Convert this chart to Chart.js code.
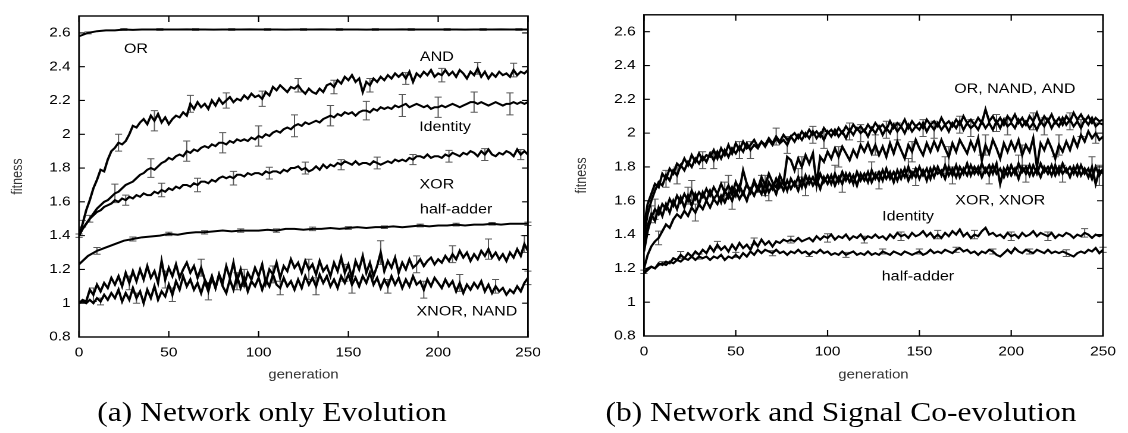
<!DOCTYPE html>
<html><head><meta charset="utf-8">
<script src="https://cdn.jsdelivr.net/npm/chart.js@4.4.1/dist/chart.umd.min.js"></script>
<style>
html,body{margin:0;padding:0;background:#fff;width:1128px;height:433px;overflow:hidden}
#wrap{position:absolute;left:0;top:0;width:948px;height:433px;transform-origin:0 0;transform:scaleX(1.18987)}
canvas{position:absolute;top:0}
#ca{left:0} #cb{left:474px}
.cap{position:absolute;top:399px;font-family:"Liberation Serif",serif;font-size:26.5px;line-height:26px;white-space:nowrap;color:#000;transform:translateX(-50%)}
</style></head><body>
<div id="wrap">
<canvas id="ca" width="474" height="390"></canvas>
<canvas id="cb" width="474" height="390"></canvas>
<div class="cap" style="left:228.6px">(a) Network only Evolution</div>
<div class="cap" style="left:706.8px">(b) Network and Signal Co-evolution</div>
</div>
<script>
// ---------- axes ----------
const xTicks = [0,50,100,150,200,250];
const xTickLabels = ['0','50','100','150','200','250'];
const yTicks = [0.8,1.0,1.2,1.4,1.6,1.8,2.0,2.2,2.4,2.6];
const yTickLabels = ['0.8','1','1.2','1.4','1.6','1.8','2','2.2','2.4','2.6'];

// generation grids (every 2 and every 5 generations)
const gen2 = Array.from({length:126},(_,i)=>i*2);
const gen5 = Array.from({length:51},(_,i)=>i*5);

// ---------- panel (a): network only evolution ----------
const orA = [2.58,2.60,2.61,2.615,2.615,2.62,2.618,2.62,2.62,2.62,
 2.62,2.62,2.621,2.62,2.62,2.619,2.62,2.62,2.62,2.621,
 2.62,2.62,2.62,2.619,2.62,2.62,2.62,2.621,2.62,2.62,
 2.62,2.62,2.619,2.62,2.62,2.62,2.621,2.62,2.62,2.62,
 2.62,2.62,2.62,2.619,2.62,2.62,2.62,2.621,2.62,2.62,
 2.62];
const andA = [1.40,1.47,1.55,1.61,1.68,1.73,1.79,1.78,1.85,1.90,
 1.92,1.95,1.94,1.96,2.00,2.05,2.04,2.07,2.09,2.06,
 2.11,2.08,2.12,2.07,2.10,2.06,2.09,2.11,2.10,2.13,
 2.11,2.18,2.15,2.19,2.16,2.18,2.15,2.20,2.17,2.21,
 2.18,2.20,2.22,2.19,2.21,2.20,2.23,2.21,2.24,2.22,
 2.23,2.21,2.25,2.23,2.28,2.26,2.29,2.27,2.25,2.28,
 2.27,2.29,2.26,2.24,2.27,2.25,2.24,2.27,2.25,2.29,
 2.30,2.28,2.32,2.30,2.34,2.32,2.35,2.31,2.33,2.25,
 2.31,2.29,2.33,2.31,2.34,2.32,2.35,2.33,2.36,2.34,
 2.36,2.33,2.37,2.31,2.36,2.34,2.37,2.35,2.38,2.34,
 2.36,2.35,2.38,2.35,2.37,2.34,2.38,2.36,2.33,2.37,
 2.35,2.39,2.34,2.37,2.33,2.36,2.34,2.37,2.35,2.36,
 2.34,2.38,2.35,2.37,2.36,2.38];
const identityA = [1.40,1.44,1.47,1.50,1.53,1.56,1.58,1.60,1.61,1.63,
 1.65,1.66,1.68,1.70,1.71,1.72,1.74,1.76,1.77,1.79,
 1.80,1.79,1.81,1.83,1.84,1.86,1.85,1.87,1.88,1.87,
 1.90,1.89,1.91,1.90,1.92,1.93,1.92,1.94,1.93,1.95,
 1.95,1.94,1.96,1.95,1.97,1.96,1.97,1.96,1.98,1.97,
 1.99,1.98,2.00,1.99,2.01,2.02,2.01,2.03,2.04,2.03,
 2.05,2.06,2.05,2.07,2.06,2.07,2.08,2.07,2.09,2.10,
 2.11,2.10,2.12,2.11,2.13,2.12,2.13,2.11,2.13,2.14,
 2.14,2.13,2.15,2.14,2.16,2.15,2.16,2.15,2.17,2.16,
 2.17,2.18,2.16,2.17,2.18,2.17,2.16,2.17,2.15,2.16,
 2.16,2.17,2.16,2.17,2.18,2.17,2.16,2.17,2.18,2.19,
 2.19,2.18,2.19,2.18,2.17,2.18,2.19,2.18,2.17,2.18,
 2.18,2.19,2.18,2.19,2.18,2.19];
const xorA = [1.40,1.44,1.47,1.50,1.52,1.54,1.55,1.57,1.58,1.59,
 1.61,1.60,1.62,1.61,1.63,1.62,1.64,1.63,1.65,1.64,
 1.64,1.66,1.65,1.67,1.66,1.68,1.67,1.69,1.68,1.70,
 1.70,1.69,1.71,1.70,1.72,1.72,1.71,1.73,1.72,1.74,
 1.75,1.74,1.75,1.74,1.76,1.76,1.75,1.77,1.76,1.77,
 1.77,1.76,1.78,1.77,1.78,1.78,1.77,1.79,1.78,1.80,
 1.80,1.81,1.79,1.80,1.78,1.79,1.81,1.79,1.82,1.80,
 1.82,1.81,1.83,1.82,1.84,1.83,1.82,1.84,1.82,1.83,
 1.83,1.82,1.84,1.83,1.82,1.83,1.84,1.83,1.85,1.84,
 1.85,1.84,1.86,1.85,1.87,1.87,1.86,1.88,1.86,1.87,
 1.87,1.86,1.88,1.87,1.89,1.88,1.87,1.89,1.88,1.90,
 1.89,1.87,1.90,1.88,1.91,1.88,1.87,1.89,1.88,1.90,
 1.89,1.87,1.91,1.88,1.90,1.88];
const halfAdderA = [1.23,1.28,1.31,1.33,1.35,1.37,1.38,1.39,1.395,1.40,
 1.41,1.405,1.415,1.42,1.42,1.425,1.43,1.425,1.43,1.43,
 1.43,1.435,1.43,1.44,1.44,1.435,1.44,1.44,1.445,1.44,
 1.445,1.45,1.445,1.45,1.45,1.455,1.45,1.455,1.46,1.455,
 1.46,1.46,1.465,1.46,1.465,1.465,1.47,1.465,1.47,1.47,
 1.47];
const xnorA = [1.00,1.02,1.01,1.08,1.05,1.11,1.07,1.12,1.09,1.15,
 1.11,1.16,1.10,1.18,1.12,1.19,1.13,1.20,1.14,1.22,
 1.15,1.19,1.12,1.25,1.14,1.21,1.16,1.23,1.15,1.20,
 1.24,1.18,1.22,1.15,1.21,1.14,1.10,1.16,1.09,1.17,
 1.12,1.22,1.15,1.24,1.13,1.20,1.11,1.18,1.14,1.21,
 1.16,1.23,1.12,1.20,1.17,1.24,1.15,1.22,1.19,1.26,
 1.21,1.24,1.18,1.25,1.20,1.23,1.17,1.25,1.19,1.22,
 1.16,1.24,1.19,1.27,1.18,1.23,1.15,1.25,1.20,1.28,
 1.18,1.24,1.16,1.22,1.30,1.19,1.25,1.21,1.27,1.18,
 1.24,1.20,1.26,1.21,1.23,1.26,1.22,1.25,1.27,1.23,
 1.26,1.24,1.28,1.25,1.29,1.26,1.31,1.27,1.30,1.25,
 1.29,1.26,1.31,1.28,1.32,1.27,1.30,1.26,1.29,1.25,
 1.30,1.27,1.32,1.28,1.35,1.31];
const nandA = [1.00,1.01,1.00,1.02,1.00,1.03,1.01,1.05,1.02,1.06,
 1.03,1.08,1.01,1.06,1.02,1.09,1.03,1.07,1.00,1.08,
 1.03,1.10,1.02,1.07,1.04,1.11,1.05,1.13,1.08,1.16,
 1.10,1.14,1.08,1.12,1.06,1.13,1.07,1.15,1.09,1.17,
 1.10,1.06,1.14,1.08,1.16,1.09,1.15,1.07,1.13,1.10,
 1.15,1.08,1.14,1.10,1.17,1.11,1.09,1.15,1.10,1.13,
 1.08,1.14,1.09,1.16,1.11,1.15,1.10,1.17,1.12,1.16,
 1.10,1.14,1.09,1.16,1.12,1.17,1.11,1.15,1.10,1.16,
 1.12,1.18,1.11,1.15,1.09,1.14,1.10,1.16,1.11,1.15,
 1.09,1.14,1.10,1.16,1.11,1.13,1.08,1.14,1.10,1.15,
 1.12,1.09,1.14,1.10,1.13,1.07,1.12,1.06,1.11,1.08,
 1.12,1.09,1.13,1.07,1.11,1.06,1.10,1.07,1.09,1.05,
 1.08,1.06,1.10,1.07,1.12,1.15];

// error bars (a): generation and half-width
const orErrGenA = [5,25,45,65,85,105,125,145,165,185,205,225,245];
const orErrA = [0.006,0.005,0.005,0.005,0.005,0.005,0.005,0.005,0.005,0.005,0.005,0.005,0.005];
const andErrGenA = [2,22,42,62,82,102,122,142,162,182,202,222,242];
const andErrA = [0.02,0.05,0.06,0.05,0.045,0.045,0.04,0.04,0.04,0.035,0.04,0.035,0.04];
const identityErrGenA = [0,20,40,60,80,100,120,140,160,180,200,220,240];
const identityErrA = [0.01,0.055,0.055,0.06,0.06,0.06,0.065,0.06,0.055,0.065,0.06,0.06,0.065];
const xorErrGenA = [6,26,46,66,86,106,126,146,166,186,206,226,246];
const xorErrA = [0.02,0.03,0.04,0.04,0.04,0.035,0.035,0.03,0.035,0.03,0.035,0.035,0.03];
const halfAdderErrGenA = [10,30,50,70,90,110,130,150,170,190,210,230,250];
const halfAdderErrA = [0.02,0.012,0.01,0.01,0.01,0.01,0.01,0.008,0.008,0.008,0.008,0.008,0.01];
const xnorErrGenA = [8,28,48,68,88,108,128,148,168,188,208,228,248];
const xnorErrA = [0.04,0.04,0.05,0.05,0.05,0.05,0.06,0.05,0.07,0.05,0.05,0.06,0.05];
const nandErrGenA = [12,32,52,72,92,112,132,152,172,192,212,232,250];
const nandErrA = [0.02,0.03,0.04,0.05,0.05,0.04,0.05,0.05,0.04,0.05,0.05,0.04,0.04];

// ---------- panel (b): network and signal co-evolution ----------
const orB = [1.45,1.58,1.64,1.70,1.68,1.76,1.73,1.79,1.76,1.82,
 1.80,1.85,1.81,1.87,1.83,1.88,1.84,1.87,1.86,1.90,
 1.85,1.91,1.87,1.93,1.88,1.94,1.90,1.95,1.91,1.93,
 1.96,1.92,1.95,1.93,1.97,1.94,1.98,1.95,1.99,1.96,
 1.98,2.00,1.97,2.01,1.98,2.02,1.99,2.01,1.98,2.03,
 2.00,2.02,1.99,2.03,2.00,2.04,2.01,2.05,2.02,2.04,
 2.01,2.05,2.02,2.06,2.03,2.05,2.02,2.07,2.03,2.06,
 2.04,2.08,2.03,2.07,2.04,2.06,2.03,2.08,2.05,2.07,
 2.04,2.09,2.05,2.07,2.04,2.08,2.05,2.10,2.06,2.08,
 2.05,2.09,2.06,2.14,2.07,2.10,2.06,2.09,2.05,2.10,
 2.07,2.11,2.06,2.09,2.05,2.10,2.07,2.12,2.06,2.10,
 2.07,2.11,2.06,2.09,2.05,2.10,2.07,2.12,2.08,2.11,
 2.07,2.10,2.06,2.09,2.07,2.08];
const andB = [1.40,1.52,1.60,1.66,1.71,1.69,1.75,1.72,1.78,1.75,
 1.81,1.78,1.83,1.80,1.85,1.82,1.86,1.83,1.88,1.84,
 1.89,1.85,1.90,1.86,1.91,1.88,1.92,1.89,1.94,1.90,
 1.93,1.91,1.95,1.92,1.96,1.93,1.97,1.94,1.96,1.93,
 1.98,1.95,1.99,1.96,2.00,1.97,2.01,1.97,2.00,1.96,
 2.01,1.98,2.02,1.98,2.01,1.97,2.02,1.99,2.03,2.00,
 2.02,1.98,2.03,2.00,2.04,1.99,2.03,2.00,2.05,2.01,
 2.04,2.00,2.05,2.01,2.04,2.02,2.06,2.01,2.05,2.02,
 2.06,2.02,2.05,2.01,2.06,2.03,2.07,2.02,2.06,2.03,
 2.05,2.02,2.07,2.03,2.06,2.02,2.07,2.03,2.08,2.04,
 2.06,2.03,2.08,2.04,2.07,2.03,2.06,2.02,2.07,2.04,
 2.08,2.03,2.07,2.04,2.09,2.05,2.08,2.04,2.07,2.03,
 2.08,2.05,2.09,2.04,2.06,2.05];
const nandB = [1.30,1.42,1.50,1.55,1.52,1.58,1.55,1.61,1.57,1.63,
 1.59,1.64,1.60,1.66,1.61,1.65,1.62,1.67,1.63,1.68,
 1.64,1.70,1.65,1.69,1.64,1.71,1.66,1.78,1.70,1.65,
 1.72,1.67,1.74,1.69,1.76,1.71,1.68,1.75,1.70,1.86,
 1.84,1.78,1.85,1.80,1.87,1.82,1.88,1.70,1.86,1.83,
 1.89,1.85,1.91,1.86,1.92,1.88,1.84,1.90,1.86,1.93,
 1.89,1.94,1.88,1.93,1.87,1.92,1.86,1.94,1.88,1.95,
 1.90,1.85,1.93,1.89,1.96,1.91,1.87,1.94,1.89,1.95,
 1.90,1.96,1.91,1.86,1.94,1.89,1.96,1.92,1.88,1.95,
 1.90,1.97,1.84,1.93,1.88,1.96,1.91,1.85,1.94,1.89,
 1.95,1.90,1.96,1.87,1.93,1.89,1.97,1.80,1.94,1.90,
 1.96,1.91,1.85,1.93,1.89,1.95,1.90,1.97,1.92,1.99,
 1.95,2.01,1.97,2.00,1.96,1.98];
const xorB = [1.35,1.45,1.52,1.48,1.56,1.51,1.58,1.53,1.60,1.55,
 1.62,1.56,1.63,1.57,1.64,1.58,1.65,1.60,1.66,1.61,
 1.64,1.59,1.66,1.62,1.68,1.63,1.69,1.64,1.70,1.65,
 1.71,1.66,1.70,1.64,1.71,1.67,1.73,1.68,1.72,1.66,
 1.73,1.69,1.74,1.68,1.75,1.70,1.74,1.69,1.76,1.71,
 1.75,1.70,1.76,1.71,1.77,1.72,1.76,1.70,1.77,1.72,
 1.76,1.71,1.78,1.73,1.77,1.72,1.79,1.73,1.77,1.72,
 1.78,1.74,1.80,1.74,1.79,1.73,1.78,1.72,1.79,1.74,
 1.80,1.75,1.81,1.75,1.79,1.74,1.80,1.76,1.82,1.75,
 1.80,1.76,1.82,1.77,1.81,1.76,1.82,1.70,1.79,1.75,
 1.81,1.76,1.82,1.77,1.80,1.75,1.81,1.76,1.82,1.77,
 1.80,1.75,1.81,1.76,1.82,1.77,1.80,1.76,1.81,1.75,
 1.79,1.74,1.80,1.70,1.78,1.76];
const xnorB = [1.20,1.28,1.33,1.36,1.38,1.42,1.46,1.44,1.49,1.52,
 1.50,1.54,1.51,1.56,1.53,1.58,1.55,1.60,1.56,1.61,
 1.58,1.63,1.59,1.64,1.60,1.66,1.61,1.65,1.60,1.67,
 1.63,1.68,1.64,1.70,1.65,1.69,1.64,1.71,1.66,1.72,
 1.67,1.71,1.66,1.73,1.68,1.74,1.69,1.73,1.67,1.74,
 1.70,1.75,1.69,1.74,1.70,1.76,1.71,1.75,1.69,1.76,
 1.72,1.77,1.71,1.76,1.72,1.78,1.73,1.77,1.71,1.78,
 1.73,1.79,1.72,1.77,1.74,1.80,1.75,1.79,1.73,1.80,
 1.76,1.78,1.73,1.80,1.75,1.81,1.74,1.79,1.75,1.81,
 1.76,1.80,1.74,1.79,1.75,1.81,1.76,1.79,1.74,1.80,
 1.75,1.79,1.73,1.80,1.76,1.81,1.75,1.79,1.74,1.80,
 1.76,1.81,1.75,1.80,1.76,1.79,1.74,1.80,1.75,1.81,
 1.76,1.79,1.73,1.80,1.75,1.79];
const identityB = [1.18,1.20,1.21,1.20,1.23,1.22,1.24,1.23,1.26,1.25,
 1.28,1.26,1.29,1.27,1.30,1.28,1.31,1.29,1.33,1.30,
 1.34,1.31,1.33,1.30,1.34,1.31,1.35,1.32,1.34,1.31,
 1.36,1.33,1.37,1.34,1.36,1.33,1.36,1.35,1.37,1.36,
 1.37,1.36,1.38,1.36,1.37,1.38,1.36,1.39,1.37,1.39,
 1.38,1.40,1.37,1.39,1.38,1.40,1.37,1.39,1.38,1.40,
 1.37,1.39,1.38,1.40,1.38,1.39,1.37,1.40,1.38,1.41,
 1.39,1.40,1.38,1.41,1.39,1.40,1.42,1.39,1.41,1.38,
 1.40,1.38,1.41,1.39,1.42,1.40,1.43,1.39,1.41,1.38,
 1.40,1.39,1.42,1.44,1.40,1.41,1.39,1.40,1.38,1.41,
 1.39,1.40,1.38,1.41,1.39,1.40,1.42,1.39,1.41,1.40,
 1.39,1.41,1.38,1.40,1.39,1.41,1.40,1.38,1.40,1.39,
 1.41,1.40,1.38,1.40,1.39,1.40];
const halfAdderB = [1.17,1.19,1.21,1.20,1.22,1.23,1.22,1.24,1.23,1.25,
 1.24,1.26,1.25,1.27,1.25,1.27,1.26,1.27,1.25,1.27,
 1.26,1.28,1.25,1.27,1.26,1.28,1.26,1.29,1.27,1.30,
 1.28,1.31,1.29,1.31,1.30,1.29,1.31,1.29,1.30,1.28,
 1.30,1.29,1.31,1.29,1.30,1.28,1.30,1.29,1.31,1.29,
 1.30,1.28,1.29,1.28,1.30,1.28,1.29,1.30,1.28,1.29,
 1.28,1.30,1.28,1.29,1.28,1.30,1.29,1.28,1.30,1.29,
 1.28,1.30,1.29,1.28,1.29,1.30,1.28,1.29,1.31,1.29,
 1.30,1.29,1.31,1.30,1.29,1.31,1.32,1.30,1.31,1.29,
 1.30,1.28,1.30,1.29,1.31,1.30,1.28,1.27,1.29,1.31,
 1.29,1.32,1.30,1.29,1.31,1.30,1.29,1.31,1.30,1.29,
 1.31,1.29,1.30,1.29,1.30,1.29,1.28,1.27,1.29,1.30,
 1.29,1.31,1.30,1.32,1.29,1.31];

// error bars (b)
const orErrGenB = [12,32,52,72,92,112,132,152,172,192,212,232];
const orErrB = [0.05,0.05,0.05,0.05,0.05,0.05,0.05,0.05,0.05,0.05,0.05,0.05];
const andErrGenB = [18,38,58,78,98,118,138,158,178,198,218,238];
const andErrB = [0.05,0.05,0.05,0.05,0.05,0.05,0.05,0.05,0.05,0.05,0.05,0.05];
const nandErrGenB = [6,26,46,66,86,106,126,146,166,186,206,226,246];
const nandErrB = [0.06,0.06,0.06,0.06,0.06,0.06,0.06,0.06,0.06,0.06,0.06,0.06,0.06];
const xorErrGenB = [4,24,44,64,84,104,124,144,164,184,204,224,244];
const xorErrB = [0.05,0.05,0.05,0.05,0.05,0.05,0.05,0.05,0.05,0.05,0.05,0.05,0.06];
const xnorErrGenB = [8,28,48,68,88,108,128,148,168,188,208,228,248];
const xnorErrB = [0.04,0.05,0.05,0.05,0.05,0.05,0.05,0.05,0.05,0.05,0.05,0.05,0.06];
const identityErrGenB = [0,20,40,60,80,100,120,140,160,180,200,220,240];
const identityErrB = [0.01,0.02,0.02,0.02,0.02,0.025,0.02,0.025,0.025,0.025,0.025,0.025,0.025];
const halfAdderErrGenB = [10,30,50,70,90,110,130,150,170,190,210,230,250];
const halfAdderErrB = [0.01,0.015,0.015,0.015,0.01,0.015,0.015,0.015,0.015,0.015,0.015,0.02,0.015];

// ---------- build ----------
function pts(xs, ys){
  if (xs.length !== ys.length) throw new Error('length mismatch ' + xs.length + ' vs ' + ys.length);
  return xs.map((g,i)=>({x:g, y:ys[i]}));
}
function lineDs(xs, ys){
  return {data: pts(xs, ys), borderColor:'#000', borderWidth:2, pointRadius:0, tension:0, fill:false};
}

const framePlugin = {
  id: 'frame',
  beforeDatasetsDraw(chart, args, opts){
    const {ctx, scales:{x, y}} = chart;
    ctx.save();
    ctx.strokeStyle = '#5a5a5a';
    ctx.lineWidth = 1;
    opts.errorBars.forEach(eb=>{
      const d = chart.data.datasets[eb.ds].data;
      eb.gen.forEach((g,i)=>{
        const p = d.find(q=>q.x===g);
        if (!p) return;
        const px = x.getPixelForValue(g);
        const y1 = y.getPixelForValue(p.y - eb.err[i]);
        const y2 = y.getPixelForValue(p.y + eb.err[i]);
        ctx.beginPath();
        ctx.moveTo(px, y1); ctx.lineTo(px, y2);
        ctx.moveTo(px-3, y1); ctx.lineTo(px+3, y1);
        ctx.moveTo(px-3, y2); ctx.lineTo(px+3, y2);
        ctx.stroke();
      });
    });
    ctx.restore();
  },
  afterDraw(chart, args, opts){
    const {ctx, chartArea:a, scales:{x, y}} = chart;
    ctx.save();
    ctx.strokeStyle = '#000';
    ctx.lineWidth = 1.4;
    ctx.strokeRect(a.left, a.top, a.right - a.left, a.bottom - a.top);
    ctx.lineWidth = 1.1;
    ctx.beginPath();
    yTicks.forEach(v=>{
      const py = y.getPixelForValue(v);
      ctx.moveTo(a.left, py); ctx.lineTo(a.left + 5, py);
      ctx.moveTo(a.right, py); ctx.lineTo(a.right - 5, py);
    });
    xTicks.forEach(v=>{
      const px = x.getPixelForValue(v);
      ctx.moveTo(px, a.bottom); ctx.lineTo(px, a.bottom - 6);
      ctx.moveTo(px, a.top); ctx.lineTo(px, a.top + 6);
    });
    ctx.stroke();
    ctx.fillStyle = '#000';
    ctx.font = '13.5px "Liberation Sans", Arial, sans-serif';
    ctx.textAlign = 'center';
    ctx.textBaseline = 'middle';
    opts.labels.forEach(l=>{
      ctx.fillText(l.text, x.getPixelForValue(l.gen), y.getPixelForValue(l.val));
    });
    ctx.restore();
  }
};

function makeChart(id, datasets, cfg){
  const font = {family:'"Liberation Sans", Arial, sans-serif', size:12};
  return new Chart(document.getElementById(id), {
    type:'line',
    data:{datasets},
    plugins:[framePlugin],
    options:{
      responsive:false, animation:false, devicePixelRatio:2,
      layout:{padding:{left:0, right:cfg.padR, top:cfg.padT, bottom:0}},
      plugins:{legend:{display:false}, tooltip:{enabled:false},
        frame:{errorBars:cfg.errorBars, labels:cfg.labels}},
      scales:{
        x:{type:'linear', min:0, max:250,
          afterBuildTicks:s=>{s.ticks = xTicks.map(v=>({value:v}));},
          afterFit:s=>{s.height = cfg.xH;},
          grid:{display:false, drawTicks:false}, border:{display:false},
          ticks:{padding:8, color:'#000', font:{...font, size:13}, maxRotation:0, autoSkip:false,
            callback:(v,i)=>xTickLabels[i]},
          title:{display:true, text:'generation', color:'#333', font:{...font, size:12.5}, padding:{top:7.5, bottom:7.5}}},
        y:{type:'linear', min:0.8, max:2.7,
          afterBuildTicks:s=>{s.ticks = yTicks.map(v=>({value:v}));},
          afterFit:s=>{s.width = cfg.yW;},
          grid:{display:false, drawTicks:false}, border:{display:false},
          ticks:{padding:7, color:'#000', font:{...font, size:13}, autoSkip:false,
            callback:(v,i)=>yTickLabels[i]},
          title:{display:true, text:'fitness', color:'#333', font:{...font, size:12.5}, padding:{top:7.5, bottom:7.5}}}
      }
    }
  });
}

makeChart('ca', [
  lineDs(gen5, orA), lineDs(gen2, andA), lineDs(gen2, identityA), lineDs(gen2, xorA),
  lineDs(gen5, halfAdderA), lineDs(gen2, xnorA), lineDs(gen2, nandA)
], {
  padR:30.3, padT:16, xH:53, yW:66.4,
  errorBars:[
    {ds:0, gen:orErrGenA, err:orErrA}, {ds:1, gen:andErrGenA, err:andErrA},
    {ds:2, gen:identityErrGenA, err:identityErrA}, {ds:3, gen:xorErrGenA, err:xorErrA},
    {ds:4, gen:halfAdderErrGenA, err:halfAdderErrA}, {ds:5, gen:xnorErrGenA, err:xnorErrA},
    {ds:6, gen:nandErrGenA, err:nandErrA}],
  labels:[
    {text:'OR', gen:31.7, val:2.503}, {text:'AND', gen:199.3, val:2.456},
    {text:'Identity', gen:203.8, val:2.04}, {text:'XOR', gen:199.3, val:1.70},
    {text:'half-adder', gen:210, val:1.554}, {text:'XNOR, NAND', gen:216, val:0.948}]
});

makeChart('cb', [
  lineDs(gen2, orB), lineDs(gen2, andB), lineDs(gen2, nandB), lineDs(gen2, xorB),
  lineDs(gen2, xnorB), lineDs(gen2, identityB), lineDs(gen2, halfAdderB)
], {
  padR:21, padT:8, xH:54, yW:67.2,
  errorBars:[
    {ds:0, gen:orErrGenB, err:orErrB}, {ds:1, gen:andErrGenB, err:andErrB},
    {ds:2, gen:nandErrGenB, err:nandErrB}, {ds:3, gen:xorErrGenB, err:xorErrB},
    {ds:4, gen:xnorErrGenB, err:xnorErrB}, {ds:5, gen:identityErrGenB, err:identityErrB},
    {ds:6, gen:halfAdderErrGenB, err:halfAdderErrB}],
  labels:[
    {text:'OR, NAND, AND', gen:202, val:2.258}, {text:'XOR, XNOR', gen:194, val:1.599},
    {text:'Identity', gen:143.8, val:1.505}, {text:'half-adder', gen:149.2, val:1.15}]
});
</script>
</body></html>
